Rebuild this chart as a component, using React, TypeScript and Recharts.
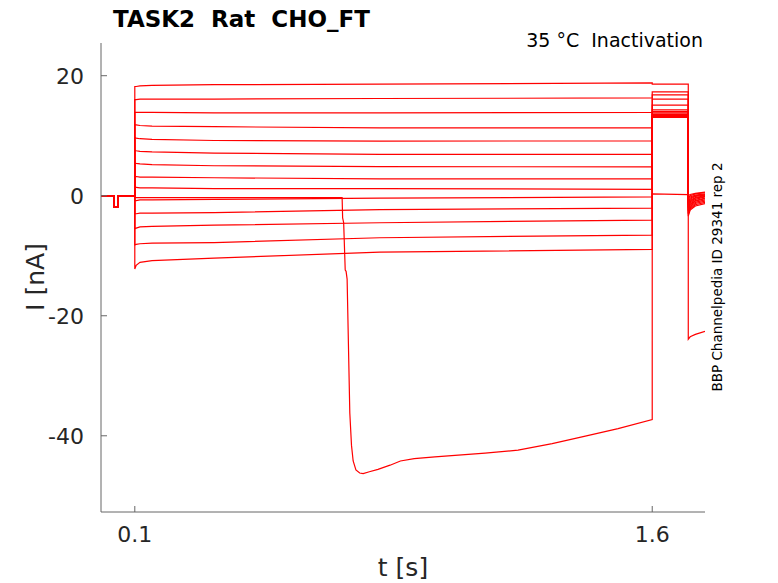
import { LineChart, Line, XAxis, YAxis } from 'recharts'

// holding period before the prepulse (shared by every sweep)
const T_HOLD = [0.002, 0.039, 0.0393, 0.0503, 0.0506, 0.1]
const I_HOLD = [0, 0, -1.9, -1.9, 0, 0]

// prepulse, one row per sweep (nA)
const T_STEP = [0.1, 0.104, 0.115, 0.15, 0.33, 0.81, 1.6]
const STEP_LEVELS = [
  [18.2, 18.2, 18.3, 18.4, 18.5, 18.6, 18.8],
  [16.0, 16.0, 16.1, 16.1, 16.1, 16.2, 16.3],
  [13.9, 13.9, 13.9, 13.9, 13.8, 13.8, 13.9],
  [11.8, 11.8, 11.7, 11.6, 11.5, 11.3, 11.3],
  [9.7, 9.6, 9.5, 9.4, 9.2, 9.1, 9.15],
  [7.6, 7.5, 7.4, 7.3, 7.1, 6.9, 6.9],
  [5.45, 5.4, 5.3, 5.2, 5.0, 4.85, 4.8],
  [3.2, 3.2, 3.1, 3.1, 3.0, 2.8, 2.8],
  [1.4, 1.4, 1.3, 1.3, 1.2, 1.2, 1.05],
  [-0.8, -0.8, -0.7, -0.7, -0.6, -0.4, -0.2],
  [-3.0, -3.0, -2.9, -2.9, -2.8, -2.3, -2.05],
  [-5.5, -5.4, -5.2, -5.1, -4.9, -4.5, -4.05],
  [-8.2, -8.1, -8.0, -7.9, -7.8, -7.0, -6.55],
  [-12.2, -11.6, -11.1, -10.8, -10.4, -9.4, -8.95],
]

// test pulse
const T_TEST = [1.6, 1.7045]
const TEST_LEVELS = [18.6, 17.3, 16.8, 16.1, 15.1, 14.3, 14.0, 13.8, 13.6, 13.5, 13.4, 13.2, 13.1, 13.05]

// tail after the test pulse
const T_TAIL = [1.7045, 1.71, 1.725, 1.753]
const TAIL_LEVELS = [
  [-3.4, -2.4, -1.7, -1.3],
  [-3.1, -2.2, -1.5, -1.1],
  [-2.9, -2.0, -1.3, -0.9],
  [-2.6, -1.8, -1.1, -0.7],
  [-2.4, -1.6, -0.9, -0.5],
  [-2.1, -1.4, -0.8, -0.4],
  [-1.9, -1.2, -0.6, -0.2],
  [-1.6, -1.0, -0.4, -0.1],
  [-1.4, -0.8, -0.3, 0.0],
  [-1.1, -0.6, -0.1, 0.1],
  [-0.9, -0.4, 0.0, 0.2],
  [-0.6, -0.2, 0.1, 0.3],
  [-0.3, 0.0, 0.3, 0.5],
  [0.0, 0.2, 0.4, 0.6],
]

// the sweep where the seal broke
const T_BROKEN = [
  0.1, 0.33, 0.701, 0.7025, 0.7055, 0.71, 0.7125, 0.7155, 0.7233, 0.7282, 0.733, 0.741,
  0.752, 0.762, 0.78, 0.805, 0.84, 0.87, 0.91, 0.97, 1.1155, 1.211, 1.31, 1.406, 1.501, 1.6,
  1.6, 1.7045, 1.7045, 1.71, 1.725, 1.753,
]
const I_BROKEN = [
  -0.3, -0.3, -0.3, -3.7, -4.5, -12.4, -12.6, -13.9, -36.2, -41.6, -44.2, -45.7,
  -46.2, -46.3, -46.0, -45.6, -44.9, -44.2, -43.8, -43.5, -42.9, -42.4, -41.3, -40.05, -38.8, -37.3,
  0.3, 0.2, -23.9, -23.5, -23.1, -22.6,
]

const X_TICKS = [0.1, 1.6]
const Y_TICKS = [-40, -20, 0, 20]

const zip = (ts: number[], vs: number[]) => ts.map((t, i) => ({ t, v: vs[i] }))
const hold = zip(T_HOLD, I_HOLD)

const sweeps = STEP_LEVELS.map((lv, i) => [
  ...hold,
  ...zip(T_STEP, lv),
  ...zip(T_TEST, [TEST_LEVELS[i], TEST_LEVELS[i]]),
  ...zip(T_TAIL, TAIL_LEVELS[i]),
])
sweeps.push([...hold, ...zip(T_BROKEN, I_BROKEN)])

const FONT = '"DejaVu Sans", sans-serif'
const INK = '#262626'
const AXIS = '#666666'

const XTick = ({ x, y, payload }: any) => (
  <g>
    <line x1={x} y1={y} x2={x} y2={y - 6} stroke={AXIS} />
    <text x={x} y={y + 30} textAnchor="middle" fontSize={22} fill={INK} fontFamily={FONT}>
      {payload.value}
    </text>
  </g>
)

const YTick = ({ x, y, payload }: any) => (
  <g>
    <line x1={x} y1={y} x2={x + 6} y2={y} stroke={AXIS} />
    <text x={x - 17} y={y + 8} textAnchor="end" fontSize={22} fill={INK} fontFamily={FONT}>
      {String(payload.value)}
    </text>
  </g>
)

export default function App() {
  return (
    <div style={{ position: 'fixed', left: 0, top: 0, width: 778, height: 583, background: 'white' }}>
      <LineChart width={778} height={583} margin={{ top: 43, right: 73, bottom: 41, left: 41 }}>
        <XAxis type="number" dataKey="t" domain={[0.002, 1.753]} ticks={X_TICKS} allowDataOverflow
               height={30} tickSize={0} tickMargin={0} tickLine={false} stroke={AXIS} tick={<XTick />} />
        <YAxis type="number" domain={[-52.7, 25.45]} ticks={Y_TICKS} allowDataOverflow
               width={60} tickSize={0} tickMargin={0} tickLine={false} stroke={AXIS} tick={<YTick />} />
        {sweeps.map((d, i) => (
          <Line key={i} data={d} dataKey="v" type="linear" stroke="#ff0000" strokeWidth={1.2}
                dot={false} activeDot={false} isAnimationActive={false} />
        ))}
      </LineChart>
      <svg width={778} height={583} style={{ position: 'absolute', left: 0, top: 0, pointerEvents: 'none' }}
           fontFamily={FONT}>
        <text x={113} y={27} fontSize={23} fontWeight="bold" fill="#000" style={{ whiteSpace: 'pre' }}>
          TASK2  Rat  CHO_FT
        </text>
        <text x={703} y={47} fontSize={19} textAnchor="end" fill="#000" style={{ whiteSpace: 'pre' }}>
          35 °C  Inactivation
        </text>
        <text x={403} y={576} fontSize={25} textAnchor="middle" fill={INK}>t [s]</text>
        <text transform="translate(44 277) rotate(-90)" fontSize={25} textAnchor="middle" fill={INK}>I [nA]</text>
        <text transform="translate(722 277) rotate(-90)" fontSize={13.5} textAnchor="middle" fill="#000">
          BBP Channelpedia ID 29341 rep 2
        </text>
      </svg>
    </div>
  )
}
